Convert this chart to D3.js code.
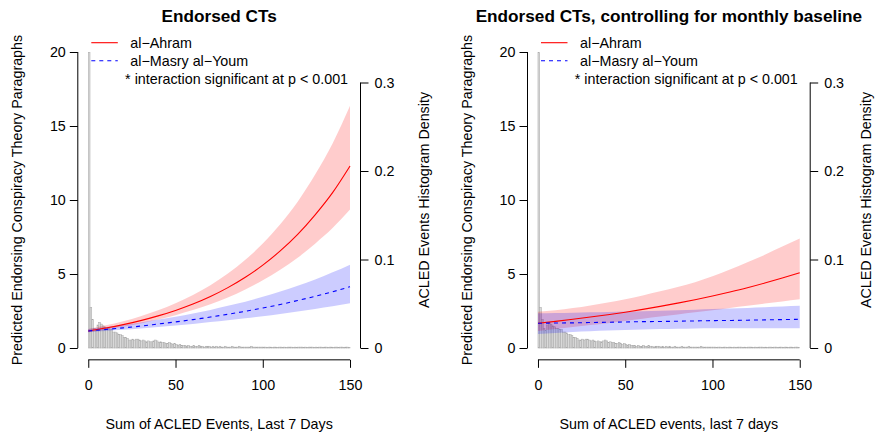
<!DOCTYPE html>
<html><head><meta charset="utf-8">
<script src="https://cdn.jsdelivr.net/npm/d3@7"></script>
<style>body{margin:0;background:#fff;} text{font-family:"Liberation Sans",Arial,Helvetica,sans-serif;}</style>
</head><body><svg id="chart" width="878" height="432"></svg>
<script>
// ---------------- data ----------------
const titles = ["Endorsed CTs", "Endorsed CTs, controlling for monthly baseline"];
const xLabels = ["Sum of ACLED Events, Last 7 Days", "Sum of ACLED events, last 7 days"];
const yLabel = "Predicted Endorsing Conspiracy Theory Paragraphs";
const y2Label = "ACLED Events Histogram Density";
const seriesNames = ["al\u2212Ahram", "al\u2212Masry al\u2212Youm"];
const noteText = "* interaction significant at p < 0.001";
const xTicks = [0, 50, 100, 150];
const yTicks = [0, 5, 10, 15, 20];
const densTicks = [0, 0.1, 0.2, 0.3];
const densTickLabels = ["0", "0.1", "0.2", "0.3"];

const xGrid = [0,10,20,30,40,50,60,70,80,90,100,110,120,130,140,150];

// left panel
const ahramL   = [1.15,1.35,1.58,1.85,2.17,2.54,2.97,3.48,4.08,4.78,5.60,6.56,7.68,9.00,10.5,12.3];
const ahramLhi = [1.29,1.53,1.81,2.15,2.55,3.02,3.58,4.24,5.03,5.96,7.06,8.36,9.89,11.72,13.82,16.36];
const ahramLlo = [1.07,1.24,1.43,1.66,1.92,2.22,2.56,2.96,3.42,3.96,4.57,5.28,6.10,7.05,8.10,9.35];
const masryL   = [1.15,1.25,1.36,1.48,1.62,1.76,1.92,2.09,2.28,2.48,2.70,2.94,3.21,3.49,3.80,4.14];
const masryLhi = [1.29,1.42,1.57,1.73,1.92,2.11,2.33,2.57,2.85,3.13,3.46,3.81,4.21,4.63,5.11,5.63];
const masryLlo = [1.07,1.15,1.23,1.32,1.42,1.52,1.63,1.75,1.88,2.01,2.15,2.30,2.47,2.64,2.82,3.02];

// right panel
const ahramR   = [1.67,1.80,1.94,2.09,2.25,2.42,2.61,2.81,3.03,3.26,3.51,3.78,4.07,4.39,4.73,5.09];
const ahramRhi = [2.45,2.55,2.70,2.88,3.08,3.30,3.55,3.83,4.13,4.45,4.85,5.30,5.80,6.30,6.85,7.40];
const ahramRlo = [1.15,1.28,1.42,1.55,1.68,1.82,1.97,2.12,2.27,2.42,2.55,2.70,2.85,3.00,3.15,3.30];
const masryR   = [1.67,1.69,1.70,1.72,1.74,1.76,1.78,1.79,1.81,1.83,1.85,1.86,1.88,1.90,1.92,1.94];
const masryRhi = [2.35,2.37,2.39,2.41,2.44,2.46,2.49,2.52,2.55,2.59,2.63,2.67,2.71,2.76,2.81,2.86];
const masryRlo = [0.95,1.02,1.08,1.13,1.18,1.22,1.25,1.28,1.30,1.32,1.33,1.33,1.33,1.33,1.33,1.33];

// histogram density of ACLED events (bins of width 1, starting at 0)
const histDensity = [
 0.334,0.046,0.032,0.022,0.020,0.026,0.029,0.027,0.025,0.024,0.022,
 0.022,0.021,0.021,0.018,0.018,0.017,0.015,0.015,0.014,0.012,
 0.012,0.011,0.009,0.009,0.010,0.009,0.010,0.010,0.009,0.008,
 0.009,0.008,0.007,0.008,0.007,0.007,0.008,0.009,0.008,0.006,
 0.007,0.006,0.006,0.005,0.005,0.006,0.005,0.004,0.005,0.004,
 0.003,0.004,0.003,0.003,0.003,0.002,0.003,0.002,0.002,0.003,
 0.002,0.002,0.003,0.002,0.002,0.001,0.002,0.002,0.002,0.001,
 0.002,0.001,0.002,0.001,0.002,0.001,0.001,0.002,0.001,0.001,
 0.001,0.002,0.001,0.001,0.001,0.002,0.001,0.001,0.001,0.001,
 0.001,0.001,0.002,0.001,0.001,0.001,0.001,0.001,0.001,0.001,
 0.001,0.0008,0.001,0.001,0.0005,0.001,0.001,0.0008,0.001,0.001,
 0.0008,0.001,0.0005,0.001,0.001,0.001,0.0008,0.001,0.0005,0.001,
 0.001,0.001,0.0008,0.001,0.0005,0.001,0.001,0.001,0.0008,0.001,
 0.0005,0.001,0.001,0.0008,0.001,0.001,0.0005,0.001,0.001,0.0008,
 0.001,0.001,0.0005,0.001,0.001,0.0008,0.001,0.001,0.0005
];

// ---------------- drawing ----------------
const svg = d3.select("#chart");
const FS = 14.3;
const panels = [
  {left: 77.8, title: titles[0], xlab: xLabels[0], y2off: 63.5,
   a: {m: ahramL, lo: ahramLlo, hi: ahramLhi}, b: {m: masryL, lo: masryLlo, hi: masryLhi}},
  {left: 527.5, title: titles[1], xlab: xLabels[1], y2off: 56,
   a: {m: ahramR, lo: ahramRlo, hi: ahramRhi}, b: {m: masryR, lo: masryRlo, hi: masryRhi}}
];
const plotW = 282.7;

panels.forEach((p, pi) => {
  const x = d3.scaleLinear().domain([-6, 156]).range([p.left, p.left + plotW]);
  const y = d3.scaleLinear().domain([-0.8, 20.8]).range([359.84, 40.16]);
  const yd = d3.scaleLinear().domain([0, 0.3]).range([y(0), 82.5]);
  const g = svg.append("g");
  const clipId = "clip" + pi;
  svg.append("clipPath").attr("id", clipId).append("rect")
    .attr("x", p.left).attr("y", 40.16).attr("width", plotW).attr("height", 359.84 - 40.16);
  const pg = g.append("g").attr("clip-path", `url(#${clipId})`);

  // histogram
  pg.selectAll("rect.h").data(histDensity).join("rect").attr("class", "h")
    .attr("x", (d, i) => x(i))
    .attr("width", (d, i) => x(i + 1) - x(i))
    .attr("y", d => yd(d))
    .attr("height", d => yd(0) - yd(d))
    .attr("fill", "#d9d9d9").attr("stroke", "#a8a8a8").attr("stroke-width", 0.5);

  // bands
  const mkArea = s => d3.area().x((d, i) => x(xGrid[i])).y0((d, i) => y(s.lo[i])).y1((d, i) => y(s.hi[i])).curve(d3.curveMonotoneX);
  pg.append("path").datum(xGrid).attr("d", mkArea(p.a)).attr("fill", "rgba(255,0,0,0.2)");
  pg.append("path").datum(xGrid).attr("d", mkArea(p.b)).attr("fill", "rgba(0,0,255,0.2)");

  // lines
  const mkLine = s => d3.line().x((d, i) => x(xGrid[i])).y((d, i) => y(s.m[i])).curve(d3.curveMonotoneX);
  pg.append("path").datum(xGrid).attr("d", mkLine(p.a)).attr("fill", "none").attr("stroke", "#ff0000").attr("stroke-width", 1.1);
  pg.append("path").datum(xGrid).attr("d", mkLine(p.b)).attr("fill", "none").attr("stroke", "#0000ff").attr("stroke-width", 1.1).attr("stroke-dasharray", "4,4");

  // left axis
  const la = g.append("g").attr("transform", `translate(${p.left},0)`)
    .call(d3.axisLeft(y).tickValues(yTicks).tickSize(8).tickPadding(4));
  la.select(".domain").remove();
  la.append("line").attr("x1", 0).attr("x2", 0).attr("y1", y(0)).attr("y2", y(20)).attr("stroke", "#000");
  // right axis
  const ra = g.append("g").attr("transform", `translate(${p.left + plotW},0)`)
    .call(d3.axisRight(yd).tickValues(densTicks).tickFormat((d, i) => densTickLabels[i]).tickSize(8).tickPadding(6));
  ra.select(".domain").remove();
  ra.append("line").attr("x1", 0).attr("x2", 0).attr("y1", yd(0)).attr("y2", yd(0.3)).attr("stroke", "#000");
  // bottom axis
  const ba = g.append("g").attr("transform", `translate(0,${y(-0.8)})`)
    .call(d3.axisBottom(x).tickValues(xTicks).tickSize(8).tickPadding(12));
  ba.select(".domain").remove();
  ba.append("line").attr("x1", x(0)).attr("x2", x(150)).attr("y1", 0).attr("y2", 0).attr("stroke", "#000");
  [la, ra, ba].forEach(a => a.attr("font-size", FS).attr("font-family", '"Liberation Sans",Arial,sans-serif'));

  // titles and labels
  g.append("text").attr("x", p.left + plotW / 2).attr("y", 22).attr("text-anchor", "middle")
    .attr("font-weight", "bold").attr("font-size", 17.2).text(p.title);
  g.append("text").attr("x", p.left + plotW / 2).attr("y", 429).attr("text-anchor", "middle")
    .attr("font-size", FS).text(p.xlab);
  g.append("text").attr("transform", `translate(${p.left - 60.8},200) rotate(-90)`).attr("dy", "0.35em")
    .attr("text-anchor", "middle").attr("font-size", FS).text(yLabel);
  g.append("text").attr("transform", `translate(${p.left + plotW + p.y2off},200) rotate(-90)`).attr("dy", "0.35em")
    .attr("text-anchor", "middle").attr("font-size", FS).text(y2Label);

  // legend
  const lg = g.append("g").attr("transform", `translate(${p.left},0)`);
  lg.append("line").attr("x1", 13.5).attr("x2", 40).attr("y1", 42.7).attr("y2", 42.7).attr("stroke", "#ff0000").attr("stroke-width", 1.1);
  lg.append("line").attr("x1", 13.5).attr("x2", 40).attr("y1", 60.7).attr("y2", 60.7).attr("stroke", "#0000ff").attr("stroke-width", 1.1).attr("stroke-dasharray", "4,4");
  lg.append("text").attr("x", 52.5).attr("y", 48).attr("font-size", FS).text(seriesNames[0]);
  lg.append("text").attr("x", 52.5).attr("y", 66).attr("font-size", FS).text(seriesNames[1]);
  lg.append("text").attr("x", 47.3).attr("y", 83.5).attr("font-size", FS).text(noteText);
});
</script></body></html>
